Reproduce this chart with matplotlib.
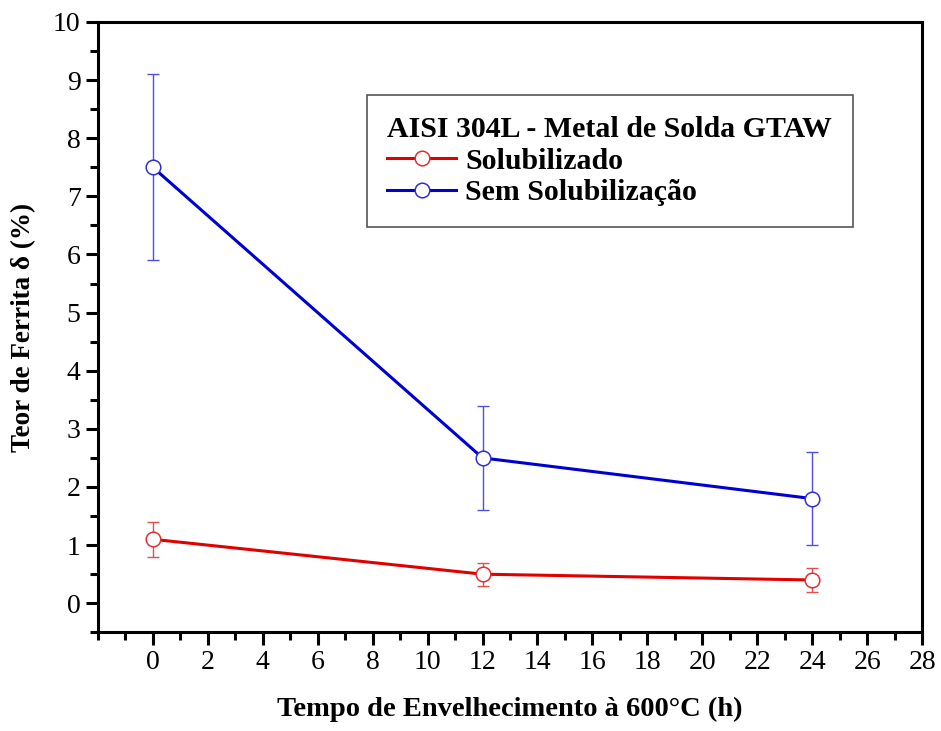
import matplotlib.pyplot as plt
from matplotlib.ticker import MultipleLocator

plt.rcParams["font.family"] = ["Liberation Serif", "DejaVu Serif"]

tempo = [0, 12, 24]
solub = [1.1, 0.5, 0.4]
solub_err = [0.3, 0.2, 0.2]
sem_solub = [7.5, 2.5, 1.8]
sem_solub_err = [1.6, 0.9, 0.8]

fig = plt.figure(figsize=(9.41, 7.31), dpi=100)
ax = fig.add_axes([0.104, 0.135, 0.876, 0.835])

# barras de erro finas e mais claras, linha grossa com marcador vazado
ax.errorbar(tempo, solub, yerr=solub_err, fmt="none", ecolor="#e05050",
            elinewidth=1, capsize=4.5, capthick=1, zorder=2)
ax.plot(tempo, solub, color="#e00000", lw=2.2, marker="o", ms=10.5,
        mfc="white", mec="#e03030", mew=1.1, label="Solubilizado", zorder=3)

ax.errorbar(tempo, sem_solub, yerr=sem_solub_err, fmt="none", ecolor="#5050e0",
            elinewidth=1, capsize=4.5, capthick=1, zorder=2)
ax.plot(tempo, sem_solub, color="#0000d0", lw=2.2, marker="o", ms=10.5,
        mfc="white", mec="#3030d0", mew=1.1, label="Sem Solubilização", zorder=3)

ax.set_xlim(-2, 28)
ax.set_ylim(-0.5, 10)
ax.xaxis.set_minor_locator(MultipleLocator(1))
ax.yaxis.set_major_locator(MultipleLocator(1))
ax.yaxis.set_minor_locator(MultipleLocator(0.5))
ax.set_xticks(range(0, 29, 2))

ax.tick_params(which="both", direction="out", width=2.2, labelsize=20)
ax.tick_params(which="major", length=9)
ax.tick_params(which="minor", length=6)
for s in ax.spines.values():
    s.set_linewidth(2.2)

ax.set_xlabel("Tempo de Envelhecimento à 600°C (h)", fontsize=20.5,
              fontweight="bold", labelpad=16)
ax.set_ylabel("Teor de Ferrita δ (%)", fontsize=19.5, fontweight="bold",
              labelpad=12)

leg = ax.legend(title="AISI 304L - Metal de Solda GTAW", loc="upper left",
                bbox_to_anchor=(0.326, 0.88), borderaxespad=0, fancybox=False,
                framealpha=1, edgecolor="#555555",
                prop={"size": 21.5, "weight": "bold"},
                title_fontproperties={"size": 21.5, "weight": "bold"},
                handlelength=2.3, handletextpad=0.3, borderpad=0.7,
                labelspacing=0.15)
leg._legend_box.align = "left"
leg.get_frame().set_linewidth(1.2)

fig.savefig("out.png", dpi=100)
